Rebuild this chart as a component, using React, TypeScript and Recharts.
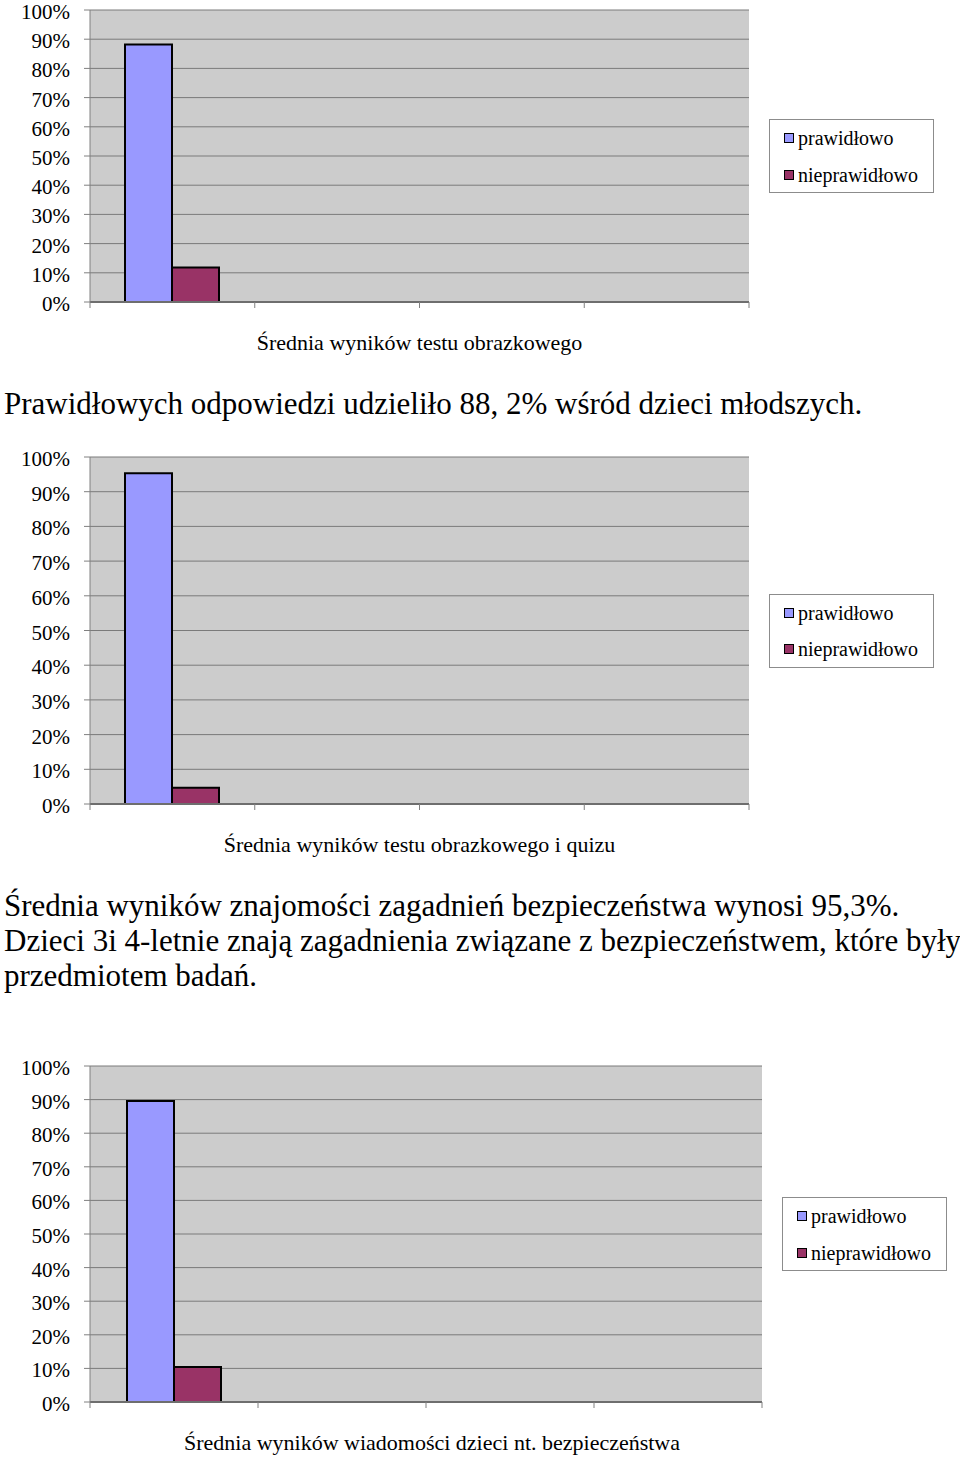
import React from 'react';
import { BarChart, Bar, XAxis, YAxis, CartesianGrid, Legend } from 'recharts';

// four category slots on the x axis, only the first one holds data
const categories = ['c1', 'c2', 'c3', 'c4'];
const yTicks = [0, 10, 20, 30, 40, 50, 60, 70, 80, 90, 100];
const seriesNames = ['prawidłowo', 'nieprawidłowo'];

const chart1Correct = [88.2, null, null, null];
const chart1Wrong = [11.8, null, null, null];
const chart1Title = 'Średnia wyników testu obrazkowego';

const chart2Correct = [95.3, null, null, null];
const chart2Wrong = [4.7, null, null, null];
const chart2Title = 'Średnia wyników testu obrazkowego i quizu';

const chart3Correct = [89.6, null, null, null];
const chart3Wrong = [10.4, null, null, null];
const chart3Title = 'Średnia wyników wiadomości dzieci nt. bezpieczeństwa';

const text1 = 'Prawidłowych odpowiedzi udzieliło 88, 2% wśród dzieci młodszych.';
const text2 = [
  'Średnia wyników znajomości zagadnień bezpieczeństwa wynosi 95,3%.',
  'Dzieci 3i 4-letnie znają zagadnienia związane z bezpieczeństwem, które były',
  'przedmiotem badań.',
];

const FONT = "'Liberation Serif', 'Times New Roman', serif";
const BLUE = '#9999ff';
const PLUM = '#993366';
const LEGEND_W = 165;
const LEGEND_H = 74;
const LEGEND_GAP = 20;
const MARGIN_TOP = 20;

type ChartProps = {
  correct: (number | null)[];
  wrong: (number | null)[];
  title: string;
  plotTop: number;
  plotHeight: number;
  plotRight: number;
  axisHeight: number;
  titleDx?: number;
};

const LegendBox = (props: any) => {
  const items = [...(props.payload || [])].sort(
    (a: any, b: any) => seriesNames.indexOf(a.value) - seriesNames.indexOf(b.value)
  );
  return (
    <div
      style={{
        width: LEGEND_W,
        height: LEGEND_H,
        boxSizing: 'border-box',
        border: '1px solid #8c8c8c',
        background: '#fff',
        fontFamily: FONT,
        fontSize: 20,
        color: '#000',
      }}
    >
      {items.map((it: any) => (
        <div key={it.value} style={{ height: 36.5, lineHeight: '36px', display: 'flex', alignItems: 'center', paddingLeft: 14 }}>
          <span
            style={{
              display: 'inline-block',
              width: 10,
              height: 10,
              boxSizing: 'border-box',
              border: '1px solid #000',
              background: it.color,
              marginRight: 4,
            }}
          />
          <span>{it.value}</span>
        </div>
      ))}
    </div>
  );
};

const PercentTick = (p: any) => (
  <text x={p.x} y={p.y} dy={9} textAnchor="end" fill="#000" fontSize={21} fontFamily={FONT}>
    {`${p.payload.value}%`}
  </text>
);

const ScoreChart = ({ correct, wrong, title, plotTop, plotHeight, plotRight, axisHeight, titleDx = 0 }: ChartProps) => {
  const data = categories.map((c, i) => ({ name: c, correct: correct[i], wrong: wrong[i] }));
  const plotLeft = 90;
  const band = (plotRight - plotLeft) / categories.length;
  const height = MARGIN_TOP + plotHeight + axisHeight;

  // tick marks sit on the category boundaries, not the centres
  const BoundaryTick = (p: any) => {
    const xs = [p.x - band / 2];
    if (p.index === categories.length - 1) xs.push(p.x + band / 2);
    return (
      <g>
        {xs.map((x, k) => (
          <line key={k} x1={x} x2={x} y1={p.y} y2={p.y + 6} stroke="#808080" />
        ))}
      </g>
    );
  };

  return (
    <div style={{ position: 'absolute', left: 0, top: plotTop - MARGIN_TOP }}>
      <BarChart
        width={960}
        height={height}
        data={data}
        barGap={0}
        margin={{ top: MARGIN_TOP, right: 960 - plotRight - LEGEND_W, bottom: 0, left: 0 }}
      >
        <CartesianGrid horizontal vertical={false} fill="#cccccc" stroke="#7a7a7a" fillOpacity={1} />
        <XAxis
          dataKey="name"
          height={axisHeight}
          tickSize={0}
          tickMargin={0}
          tick={<BoundaryTick />}
          interval={0}
          axisLine={{ stroke: '#6e6e6e', strokeWidth: 2 }}
          label={{ value: title, position: 'insideBottom', offset: axisHeight - 48, dx: titleDx, fill: '#000', fontSize: 22, fontFamily: FONT }}
        />
        <YAxis
          width={plotLeft}
          domain={[0, 100]}
          ticks={yTicks}
          interval={0}
          tickSize={6}
          tickMargin={14}
          tick={<PercentTick />}
          tickLine={{ stroke: '#808080' }}
          axisLine={{ stroke: '#808080' }}
        />
        <YAxis yAxisId="frame" orientation="right" width={0} tick={false} tickLine={false} axisLine={{ stroke: '#9a9a9a', strokeWidth: 2 }} />
        <Legend
          layout="vertical"
          align="right"
          verticalAlign="middle"
          content={<LegendBox />}
          wrapperStyle={{ left: plotRight + LEGEND_GAP, top: MARGIN_TOP + plotHeight / 2 - LEGEND_H / 2, width: LEGEND_W }}
        />
        <Bar dataKey="correct" name={seriesNames[0]} fill={BLUE} stroke="#000" strokeWidth={2} barSize={47} isAnimationActive={false} />
        <Bar dataKey="wrong" name={seriesNames[1]} fill={PLUM} stroke="#000" strokeWidth={2} barSize={47} isAnimationActive={false} />
      </BarChart>
    </div>
  );
};

export default function App() {
  const para: React.CSSProperties = {
    position: 'absolute',
    left: 4,
    fontFamily: FONT,
    fontSize: 31,
    lineHeight: '35px',
    color: '#000',
    whiteSpace: 'nowrap',
  };
  return (
    <div style={{ position: 'absolute', left: 0, top: 0, width: 960, height: 1457, overflow: 'hidden', background: '#fff' }}>
      <ScoreChart correct={chart1Correct} wrong={chart1Wrong} title={chart1Title} plotTop={10} plotHeight={292} plotRight={749} axisHeight={60} />
      <div style={{ ...para, top: 386 }}>{text1}</div>
      <ScoreChart correct={chart2Correct} wrong={chart2Wrong} title={chart2Title} plotTop={457} plotHeight={347} plotRight={749} axisHeight={60} />
      <div style={{ ...para, top: 888 }}>
        {text2.map((l) => (
          <div key={l}>{l}</div>
        ))}
      </div>
      <ScoreChart correct={chart3Correct} wrong={chart3Wrong} title={chart3Title} plotTop={1066} plotHeight={336} plotRight={762} axisHeight={55} titleDx={6} />
    </div>
  );
}
